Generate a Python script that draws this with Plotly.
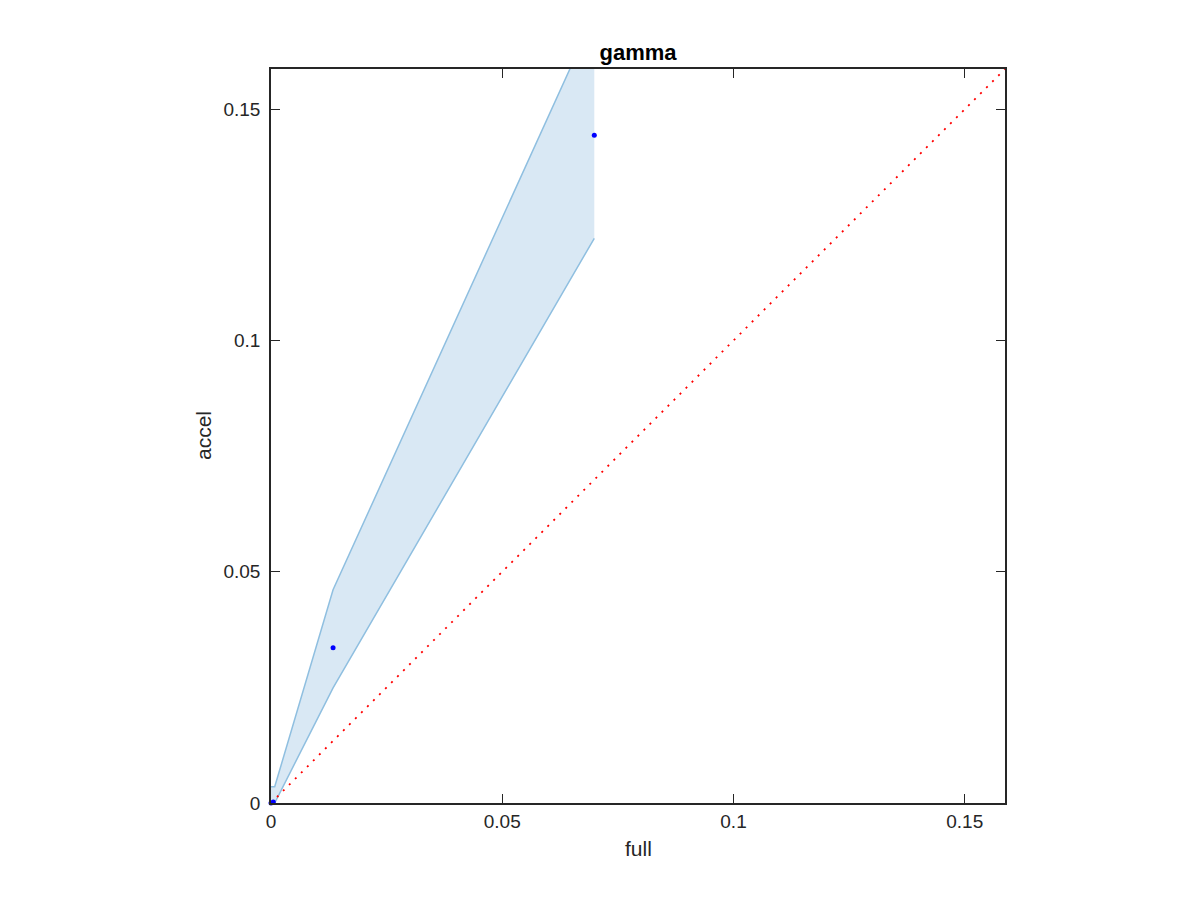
import plotly.graph_objects as go

# Data
x_pts = [0.0, 0.0005, 0.01342, 0.0699]
y_pts = [0.0, 0.0002, 0.03355, 0.1444]
x_band = [0.0, 0.0008, 0.01342, 0.0699]
upper = [0.0035, 0.0035, 0.0461, 0.1703]
lower = [0.0, 0.0, 0.0249, 0.1221]
diag = [0.0, 0.1587]
tickvals = [0, 0.05, 0.1, 0.15]
ticktext = ["0", "0.05", "0.1", "0.15"]

FONT = "Liberation Sans, Arial, Helvetica, sans-serif"

fig = go.Figure()
fig.add_trace(go.Scatter(
    x=x_band + x_band[::-1], y=upper + lower[::-1], fill="toself",
    fillcolor="#d9e8f4", line=dict(width=0), mode="lines", hoverinfo="skip"))
fig.add_trace(go.Scatter(x=x_band, y=upper, mode="lines",
                         line=dict(color="#8fbfe0", width=1.5)))
fig.add_trace(go.Scatter(x=x_band, y=lower, mode="lines",
                         line=dict(color="#8fbfe0", width=1.5)))
fig.add_trace(go.Scatter(x=diag, y=diag, mode="lines",
                         line=dict(color="#ff0000", width=1.8, dash="2px,6.5px")))
fig.add_trace(go.Scatter(x=x_pts, y=y_pts, mode="markers",
                         marker=dict(color="#0000ff", size=5), cliponaxis=False))

axis_common = dict(
    range=[0, 0.1587], tickvals=tickvals, ticktext=ticktext,
    showgrid=False, zeroline=False, showline=True, linecolor="#262626",
    linewidth=1.5, mirror="ticks", ticks="inside", ticklen=9, tickcolor="#262626",
    tickwidth=1.3,
    tickfont=dict(family=FONT, size=19, color="#262626"),
)
fig.update_layout(
    width=1200, height=900, showlegend=False,
    plot_bgcolor="white", paper_bgcolor="white",
    margin=dict(l=263, r=203, t=61, b=105),
    title=dict(text="<b>gamma</b>", x=0.525, xanchor="center", y=0.951, yanchor="middle",
               font=dict(family=FONT, size=22, color="black")),
    xaxis=dict(**axis_common),
    yaxis=dict(**axis_common, ticklabelstandoff=5),
    annotations=[
        dict(text="full", xref="paper", yref="paper", x=0.5, y=0, xanchor="center",
             yanchor="middle", yshift=-45, showarrow=False,
             font=dict(family=FONT, size=21, color="#262626")),
        dict(text="accel", xref="paper", yref="paper", x=0, y=0.5, xanchor="center",
             yanchor="middle", xshift=-68, textangle=-90, showarrow=False,
             font=dict(family=FONT, size=21, color="#262626")),
    ],
)
fig.write_html("out.html")
